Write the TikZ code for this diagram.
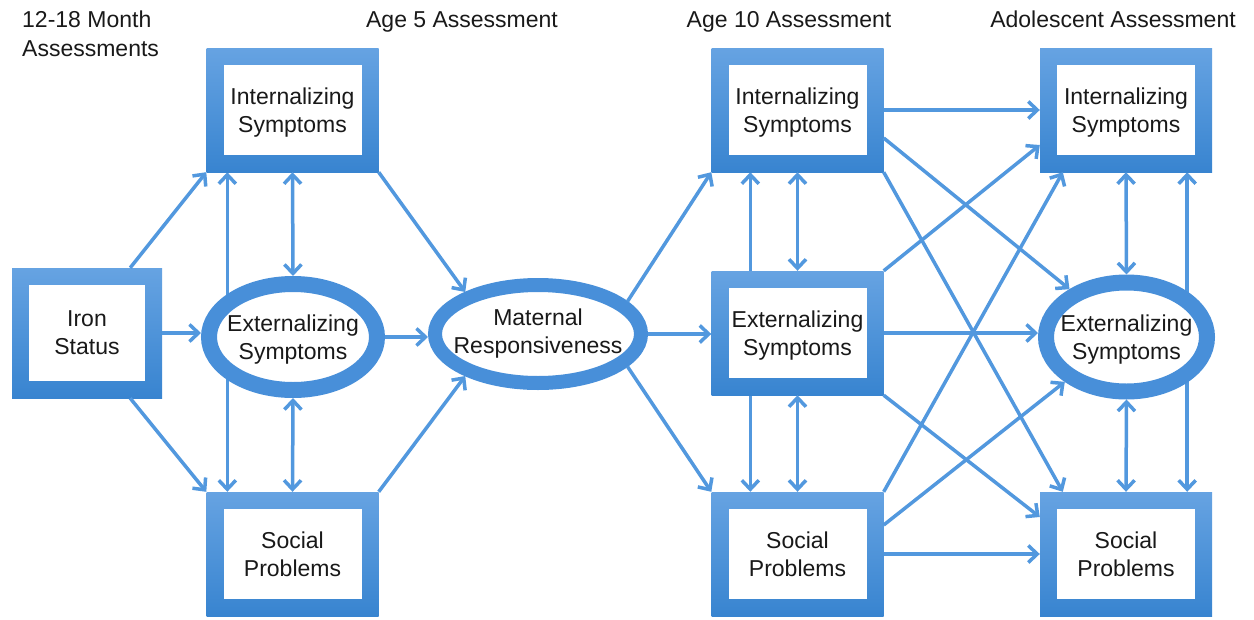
\documentclass[tikz,border=0pt]{standalone}
\usepackage{fontspec}
\setmainfont{Liberation Sans}
\usetikzlibrary{arrows.meta,shapes.geometric,backgrounds}

\definecolor{boxtop}{RGB}{102,163,226}
\definecolor{boxbot}{RGB}{56,132,208}
\definecolor{ringblue}{RGB}{72,143,217}
\definecolor{linkblue}{RGB}{82,152,222}

\tikzset{
  label text/.style={font=\fontsize{23}{28}\selectfont, align=center, text=black!90, text depth=0pt},
  framebox/.style={label text, rectangle, inner sep=0pt,
    minimum width=172pt, minimum height=124pt,
    top color=boxtop, bottom color=boxbot,
    path picture={\fill[white]
      ([shift={(17pt,17pt)}]path picture bounding box.south west) rectangle
      ([shift={(-17pt,-17pt)}]path picture bounding box.north east);}},
  ring/.style={label text, ellipse, draw=ringblue, line width=16pt, fill=white,
    inner xsep=-50pt, inner ysep=-20pt},
  barb/.tip={Straight Barb[length=9pt,width=17pt]},
  link/.style={draw=linkblue, line width=3.5pt, -barb},
  twoway/.style={draw=linkblue, line width=3.5pt, barb-barb},
  heading/.style={font=\fontsize{23}{29}\selectfont, inner sep=0pt, text=black!90},
}

\begin{document}
\begin{tikzpicture}[x=1pt, y=-1pt]
\useasboundingbox (0,0) rectangle (1254,619);

% column headings
\node[heading, anchor=base west, align=left] (h0) at (22,56) {12-18 Month\\Assessments};
\node[heading, anchor=base] (h5) at (462,27) {Age 5 Assessment};
\node[heading, anchor=base] (h10) at (789,27) {Age 10 Assessment};
\node[heading, anchor=base] (hA) at (1113,27) {Adolescent Assessment};

% 12-18 months
\node[framebox, minimum width=150pt, minimum height=130pt] (iron) at (87,333) {Iron\\Status};

% age 5
\node[framebox] (int5) at (292.5,110) {Internalizing\\Symptoms};
\node[ring, minimum width=168pt, minimum height=106pt] (ext5) at (293,337) {Externalizing\\Symptoms};
\node[framebox] (soc5) at (292.5,554) {Social\\Problems};

% maternal responsiveness
\node[ring, line width=14pt, minimum width=206pt, minimum height=98pt, text depth=6pt] (mat) at (538,334)
  {Maternal\\Responsiveness};

% age 10
\node[framebox] (int10) at (797.5,110) {Internalizing\\Symptoms};
\node[framebox] (ext10) at (797.5,333) {Externalizing\\Symptoms};
\node[framebox] (soc10) at (797.5,554) {Social\\Problems};

% adolescence
\node[framebox] (intA) at (1126,110) {Internalizing\\Symptoms};
\node[ring, minimum width=161pt, minimum height=109pt] (extA) at (1126.5,337) {Externalizing\\Symptoms};
\node[framebox] (socA) at (1126,554) {Social\\Problems};

% paths that pass behind a node
\begin{scope}[on background layer]
  \draw[twoway] ([xshift=21pt]int5.south west) -- ([xshift=21pt]soc5.north west);
  \draw[twoway] ([xshift=39pt]int10.south west) -- ([xshift=39pt]soc10.north west);
  \draw[twoway] ([xshift=-25pt]intA.south east) -- ([xshift=-25pt]socA.north east);
\end{scope}

% iron status effects
\draw[link] ([xshift=-32pt]iron.north east) -- (int5.south west);
\draw[link] (iron.east) -- (iron.east -| ext5.west);
\draw[link] ([xshift=-32pt]iron.south east) -- (soc5.north west);

% age 5 covariances
\draw[twoway] (int5.south) -- (ext5.north);
\draw[twoway] (ext5.south) -- (soc5.north);

% age 5 to maternal responsiveness
\draw[link] (int5.south east) -- (mat.150);
\draw[link] (ext5.east) -- (ext5.east -| mat.west);
\draw[link] (soc5.north east) -- (mat.210);

% maternal responsiveness to age 10
\draw[link] (mat.20) -- (int10.south west);
\draw[link] (mat.east) -- (mat.east -| ext10.west);
\draw[link] (mat.-20) -- (soc10.north west);

% age 10 covariances
\draw[twoway] (int10.south) -- (ext10.north);
\draw[twoway] (ext10.south) -- (soc10.north);

% age 10 to adolescence
\draw[link] (int10.east) -- (intA.west);
\draw[link] ([yshift=-28pt]int10.east) -- (extA.140);
\draw[link] (int10.south east) -- ([xshift=23pt]socA.north west);
\draw[link] (ext10.north east) -- ([yshift=-35pt]intA.west);
\draw[link] (ext10.east) -- (ext10.east -| extA.west);
\draw[link] (ext10.south east) -- ([yshift=37pt]socA.west);
\draw[link] (soc10.north east) -- ([xshift=23pt]intA.south west);
\draw[link] ([yshift=29pt]soc10.east) -- (extA.216);
\draw[link] (soc10.east) -- (socA.west);

% adolescent covariances
\draw[twoway] (intA.south) -- (extA.north);
\draw[twoway] (extA.south) -- (socA.north);
\end{tikzpicture}
\end{document}
